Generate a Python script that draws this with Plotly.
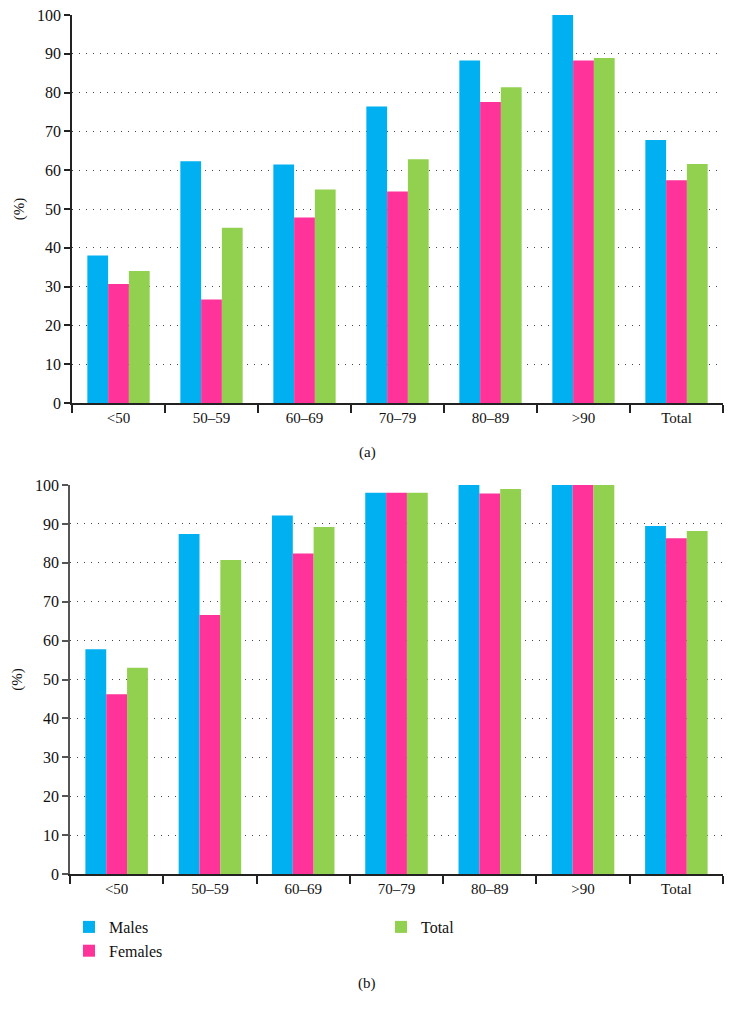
import plotly.graph_objects as go

categories = ["<50", "50-59", "60-69", "70-79", "80-89", ">90", "Total"]
tick_labels = ["<50", "50–59", "60–69", "70–79", "80–89", ">90", "Total"]

# Panel (a)
a_males = [38.0, 62.3, 61.5, 76.4, 88.3, 100.0, 67.8]
a_females = [30.7, 26.7, 47.8, 54.5, 77.6, 88.3, 57.4]
a_total = [34.0, 45.2, 55.0, 62.8, 81.4, 88.9, 61.6]

# Panel (b)
b_males = [57.8, 87.4, 92.2, 98.0, 100.0, 100.0, 89.5]
b_females = [46.2, 66.6, 82.4, 98.0, 97.8, 100.0, 86.3]
b_total = [53.0, 80.7, 89.2, 98.0, 99.0, 100.0, 88.2]

series_names = ["Males", "Females", "Total"]
colors = ["#00B0F0", "#FF3399", "#92D050"]

FONT = "Liberation Serif"
OFF = 8  # page body margin
W, H = 734 - 2 * OFF, 1015 - 2 * OFF

def px_x(x):
    return (x - OFF) / W

def px_y(y):
    return 1 - (y - OFF) / H

fig = go.Figure()

for i, (name, vals) in enumerate(zip(series_names, [a_males, a_females, a_total])):
    fig.add_trace(go.Bar(x=tick_labels, y=vals, name=name, marker_color=colors[i],
                         marker_line_width=0, xaxis="x", yaxis="y", showlegend=False))

legend_map = ["legend", "legend", "legend2"]
for i, (name, vals) in enumerate(zip(series_names, [b_males, b_females, b_total])):
    fig.add_trace(go.Bar(x=tick_labels, y=vals, name=name, marker_color=colors[i],
                         marker_line_width=0, xaxis="x2", yaxis="y2", showlegend=True,
                         legend=legend_map[i]))

def xax(left, anchor):
    return dict(domain=[px_x(left), px_x(723)], anchor=anchor,
                showline=True, linecolor="#222", linewidth=1.5,
                ticks="outside", tickson="boundaries", ticklen=8, tickcolor="#222",
                tickwidth=1.5, showgrid=False, automargin=False,
                tickfont=dict(family=FONT, size=15, color="#111"),
                categoryorder="array", categoryarray=tick_labels, fixedrange=True)

def yax(top_px, bot_px, anchor, lc):
    return dict(domain=[px_y(bot_px), px_y(top_px)], range=[0, 100.01],
                tickmode="array", tickvals=list(range(0, 101, 10)),
                showline=True, linecolor=lc, linewidth=1.5, ticks="outside", ticklen=6,
                tickcolor=lc, tickwidth=1.5, showgrid=True, gridcolor="#444",
                gridwidth=1, griddash="1px,6px", zeroline=False, anchor=anchor,
                automargin=False, ticklabeloverflow="allow",
                tickfont=dict(family=FONT, size=16, color="#111"),
                title=dict(text="(%)", font=dict(family=FONT, size=15, color="#111"), standoff=9))

fig.update_layout(
    width=W, height=H,
    margin=dict(l=0, r=0, t=0, b=0, autoexpand=False),
    plot_bgcolor="white", paper_bgcolor="white",
    barmode="group", bargap=0.33, bargroupgap=0,
    xaxis=xax(72, "y"), yaxis=yax(15, 403, "x", "#222"),
    xaxis2=xax(70, "y2"), yaxis2=yax(485, 874, "x2", "#555"),
    font=dict(family=FONT, size=15, color="#111"),
    legend=dict(x=px_x(69), y=px_y(910), xanchor="left", yanchor="top",
                orientation="v", font=dict(family=FONT, size=16, color="#111"),
                tracegroupgap=0, itemwidth=30, bgcolor="rgba(0,0,0,0)"),
    legend2=dict(x=px_x(381), y=px_y(910), xanchor="left", yanchor="top",
                 orientation="v", font=dict(family=FONT, size=16, color="#111"),
                 itemwidth=30, bgcolor="rgba(0,0,0,0)"),
    annotations=[
        dict(text="(a)", x=px_x(367), y=px_y(452), xref="paper", yref="paper",
             xanchor="center", yanchor="middle",
             showarrow=False, font=dict(family=FONT, size=15, color="#111")),
        dict(text="(b)", x=px_x(367), y=px_y(983), xref="paper", yref="paper",
             xanchor="center", yanchor="middle",
             showarrow=False, font=dict(family=FONT, size=15, color="#111")),
    ],
)

fig.write_html("out.html")
